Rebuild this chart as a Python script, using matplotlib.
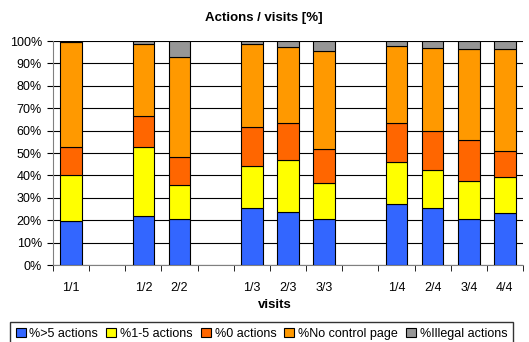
import numpy as np
import matplotlib
matplotlib.use("Agg")
import matplotlib.pyplot as plt

plt.rcParams['font.family'] = ['Liberation Sans', 'DejaVu Sans']

# visit groups, empty slots separate the groups
labels = ['1/1', '', '1/2', '2/2', '', '1/3', '2/3', '3/3', '', '1/4', '2/4', '3/4', '4/4']
more_than_5 = [19.8, None, 21.7, 20.7, None, 25.3, 23.5, 20.7, None, 27.2, 25.3, 20.7, 23.2]
one_to_5 = [20.3, None, 31.2, 14.8, None, 19.1, 23.2, 16.1, None, 18.6, 16.9, 17.0, 16.0]
zero_actions = [12.8, None, 13.8, 12.8, None, 17.0, 16.5, 14.9, None, 17.4, 17.4, 17.9, 11.6]
no_control = [46.7, None, 32.1, 44.6, None, 37.4, 34.3, 43.8, None, 34.4, 37.1, 40.7, 45.5]
illegal = [0.4, None, 1.2, 7.1, None, 1.2, 2.5, 4.5, None, 2.4, 3.3, 3.7, 3.7]

series = [
    ('%>5 actions', more_than_5, '#3366FF'),
    ('%1-5 actions', one_to_5, '#FFFF00'),
    ('%0 actions', zero_actions, '#FF6600'),
    ('%No control page', no_control, '#FF9900'),
    ('%Illegal actions', illegal, '#969696'),
]

W, H = 529, 342
fig = plt.figure(figsize=(W / 100, H / 100), dpi=100)
ax = fig.add_axes([53 / W, 1 - 265 / H, 470 / W, 224 / H])

x = np.arange(len(labels))
idx = [i for i, v in enumerate(more_than_5) if v is not None]
bottom = np.zeros(len(idx))
for name, vals, color in series:
    v = np.array([vals[i] for i in idx])
    ax.bar(x[idx], v, bottom=bottom, width=0.6, color=color, edgecolor='black',
           linewidth=0.8, label=name, zorder=3)
    bottom += v

ax.set_xlim(-0.5, len(labels) - 0.5)
ax.set_ylim(0, 100)
ax.set_yticks(np.arange(0, 101, 10))
ax.set_yticklabels([f'{t}%' for t in range(0, 101, 10)], fontsize=9)
ax.set_xticks(x)
ax.set_xticklabels(labels, fontsize=9)
ax.tick_params(axis='x', length=0, pad=12)
ax.set_xticks(np.arange(-0.5, len(labels), 1), minor=True)
ax.tick_params(axis='x', which='minor', length=4, direction='out', color='black')
ax.tick_params(axis='y', length=4, direction='out', pad=4)
ax.yaxis.grid(True, color='black', linewidth=0.8, zorder=0)
ax.set_axisbelow(True)
for s in ['top', 'right']:
    ax.spines[s].set_visible(False)
ax.spines['left'].set_color('#808080')
ax.spines['bottom'].set_color('#808080')

fig.text(264 / W, 1 - 18 / H, 'Actions / visits [%]', fontsize=9.5, fontweight='bold',
         ha='center', va='center')
fig.text(275 / W, 1 - 305 / H, 'visits', fontsize=9.5, fontweight='bold',
         ha='center', va='center')

fig.legend(loc='upper left', bbox_to_anchor=(10 / W, 1 - 322 / H - 0.1, 503 / W, 0.1),
           mode='expand', ncol=5, fontsize=9, frameon=True, fancybox=False,
           edgecolor='black', handlelength=0.8, handleheight=0.8, handletextpad=0.3,
           columnspacing=0.4, borderpad=0.45, borderaxespad=0)

fig.savefig('out.png', dpi=100)
